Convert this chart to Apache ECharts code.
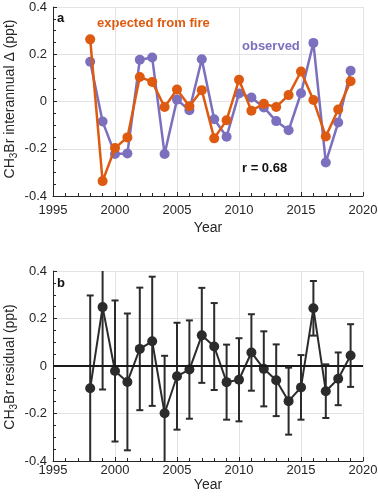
<!DOCTYPE html>
<html><head><meta charset="utf-8">
<script src="https://cdn.jsdelivr.net/npm/echarts@6/dist/echarts.min.js"></script>
<style>html,body{margin:0;padding:0;background:#fff}#c{width:378px;height:500px}</style>
</head><body><div id="c"></div>
<script>
const years = [1998,1999,2000,2001,2002,2003,2004,2005,2006,2007,2008,2009,2010,2011,2012,2013,2014,2015,2016,2017,2018,2019];
const observed = [0.168,-0.085,-0.222,-0.220,0.177,0.186,-0.222,0.008,-0.037,0.179,-0.075,-0.149,0.034,0.017,-0.025,-0.083,-0.122,0.035,0.248,-0.258,-0.089,0.130];
const expectedFire = [0.263,-0.337,-0.197,-0.152,0.104,0.083,-0.023,0.051,-0.020,0.048,-0.156,-0.079,0.092,-0.039,-0.010,-0.023,0.027,0.127,0.006,-0.148,-0.034,0.086];
const residual = [-0.094,0.248,-0.021,-0.067,0.072,0.104,-0.199,-0.043,-0.015,0.129,0.082,-0.068,-0.058,0.057,-0.012,-0.060,-0.148,-0.090,0.243,-0.106,-0.054,0.044];
const residualErr = [0.391,0.347,0.297,0.288,0.258,0.272,0.242,0.225,0.207,0.200,0.183,0.158,0.175,0.161,0.158,0.151,0.141,0.136,0.115,0.113,0.111,0.132];
const xTicks = [1995,2000,2005,2010,2015,2020];
const yTicks = [-0.4,-0.2,0,0.2,0.4];

const FONT = 'Liberation Sans, Arial, Helvetica, sans-serif';
const AX = '#262626';
const ORANGE = '#dd5a10';
const PURPLE = '#7b70be';
const DARK = '#2b2b2b';

function xAxisCfg(gi, margin, nameGap){
  return {
    type:'value', gridIndex:gi, min:xTicks[0], max:xTicks[xTicks.length-1], interval:5,
    axisLine:{show:true, onZero:false, lineStyle:{color:AX, width:1}},
    axisTick:{show:true, inside:true, length:4, lineStyle:{color:AX}},
    minorTick:{show:true, splitNumber:5, length:3, lineStyle:{color:AX}},
    splitLine:{show:true, lineStyle:{color:'#e3e3e3', width:1}},
    axisLabel:{fontSize:13, color:AX, fontFamily:FONT, margin:margin,
      formatter:function(v){ return String(Math.round(v)); }},
    name:'Year', nameLocation:'middle', nameGap:nameGap,
    nameTextStyle:{fontSize:14, color:AX, fontFamily:FONT}
  };
}
function yAxisCfg(gi){
  return {
    type:'value', gridIndex:gi, min:yTicks[0], max:yTicks[yTicks.length-1], interval:0.2,
    axisLine:{show:true, onZero:false, lineStyle:{color:AX, width:1}},
    axisTick:{show:true, inside:true, length:4, lineStyle:{color:AX}},
    minorTick:{show:true, splitNumber:4, length:3, lineStyle:{color:AX}},
    splitLine:{show:true, lineStyle:{color:'#e3e3e3', width:1}},
    axisLabel:{fontSize:13, color:AX, fontFamily:FONT, margin:6,
      formatter:function(v){ const r=Math.round(v*10)/10; return r===0?'0':String(r); }}
  };
}
const richName = {
  a:{fontSize:14, fill:AX, color:AX, fontFamily:FONT, lineHeight:18},
  s:{fontSize:10, fill:AX, color:AX, fontFamily:FONT, lineHeight:10, padding:[8,0,0,0]}
};
function yName(text, cy){
  return {type:'text', x:10, y:cy, rotation:Math.PI/2,
    style:{text:text, rich:richName, align:'center', verticalAlign:'middle', fill:AX, font:'14px '+FONT}};
}

const chart = echarts.init(document.getElementById('c'), null, {renderer:'canvas'});
chart.setOption({
  animation:false,
  backgroundColor:'#fff',
  grid:[
    {left:53, width:310, top:7, height:189, containLabel:false, outerBoundsMode:'none'},
    {left:53, width:310, top:271, height:190, containLabel:false, outerBoundsMode:'none'}
  ],
  xAxis:[xAxisCfg(0, 8, 25), xAxisCfg(1, 3, 17)],
  yAxis:[yAxisCfg(0), yAxisCfg(1)],
  series:[
    {name:'observed', type:'line', xAxisIndex:0, yAxisIndex:0,
     data:years.map((y,i)=>[y, observed[i]]),
     symbol:'circle', symbolSize:10, lineStyle:{color:PURPLE, width:2.5}, itemStyle:{color:PURPLE}, z:2},
    {name:'expected from fire', type:'line', xAxisIndex:0, yAxisIndex:0,
     data:years.map((y,i)=>[y, expectedFire[i]]),
     symbol:'circle', symbolSize:10, lineStyle:{color:ORANGE, width:2.5}, itemStyle:{color:ORANGE}, z:3},
    {name:'errors', type:'custom', xAxisIndex:1, yAxisIndex:1, clip:true,
     data:years.map((y,i)=>[y, residual[i]-residualErr[i], residual[i]+residualErr[i]]),
     encode:{x:0, y:[1,2]},
     renderItem:function(params, api){
       const x = api.value(0);
       const top = api.coord([x, api.value(2)]);
       const bot = api.coord([x, api.value(1)]);
       const hw = 3.5;
       const st = {stroke:DARK, lineWidth:2};
       return {type:'group', children:[
         {type:'line', shape:{x1:top[0], y1:top[1], x2:bot[0], y2:bot[1]}, style:st},
         {type:'line', shape:{x1:top[0]-hw, y1:top[1], x2:top[0]+hw, y2:top[1]}, style:st},
         {type:'line', shape:{x1:bot[0]-hw, y1:bot[1], x2:bot[0]+hw, y2:bot[1]}, style:st}
       ]};
     }, z:2},
    {name:'residual', type:'line', xAxisIndex:1, yAxisIndex:1,
     data:years.map((y,i)=>[y, residual[i]]),
     symbol:'circle', symbolSize:10, lineStyle:{color:DARK, width:2}, itemStyle:{color:DARK}, z:3,
     markLine:{silent:true, symbol:'none', label:{show:false},
       lineStyle:{color:'#1a1a1a', width:2, type:'solid'}, data:[{yAxis:0}]}}
  ],
  graphic:[
    yName('{a|CH}{s|3}{a|Br interannual \u0394 (ppt)}', 99),
    yName('{a|CH}{s|3}{a|Br residual (ppt)}', 367),
    {type:'text', left:57, top:12, style:{text:'a', font:'bold 13px '+FONT, fill:'#111'}},
    {type:'text', left:97, top:17, style:{text:'expected from fire', font:'bold 13px '+FONT, fill:ORANGE}},
    {type:'text', left:242, top:40, style:{text:'observed', font:'bold 13px '+FONT, fill:PURPLE}},
    {type:'text', left:242, top:162, style:{text:'r = 0.68', font:'bold 13px '+FONT, fill:'#111'}},
    {type:'text', left:57, top:277, style:{text:'b', font:'bold 13px '+FONT, fill:'#111'}}
  ]
});
</script></body></html>
